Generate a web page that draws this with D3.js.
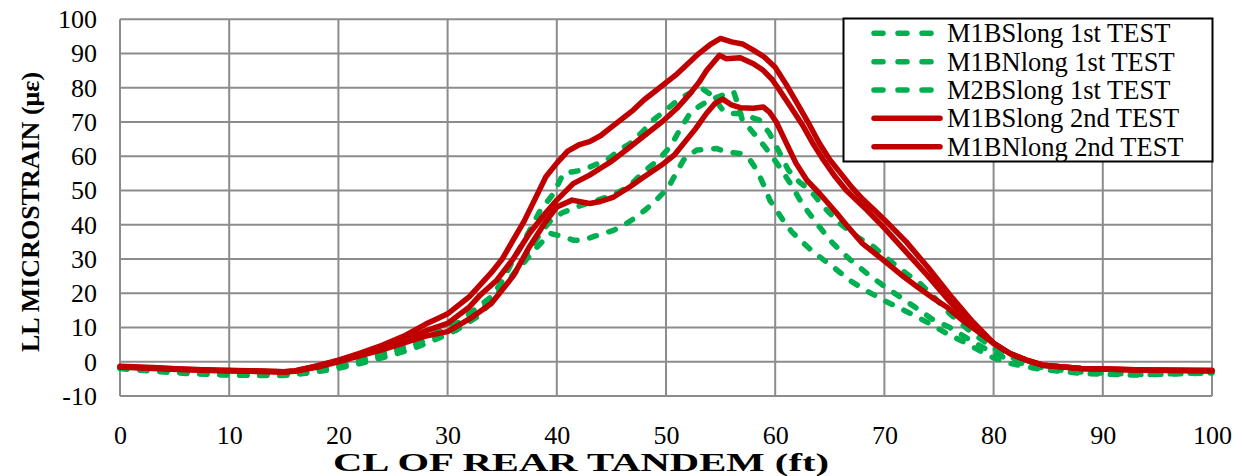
<!DOCTYPE html>
<html><head><meta charset="utf-8">
<script src="https://cdn.jsdelivr.net/npm/d3@7"></script>
<style>
html,body{margin:0;padding:0;background:#fff;}
svg{display:block;}
text{font-family:"Liberation Serif","Times New Roman",serif;fill:#000;}
</style></head>
<body>
<svg id="chart" width="1243" height="476"></svg>
<script>
const xTicks = [0,10,20,30,40,50,60,70,80,90,100];
const yTicks = [-10,0,10,20,30,40,50,60,70,80,90,100];
const xTitle = "CL OF REAR TANDEM (ft)";
const yTitle = "LL MICROSTRAIN (με)";
const legendNames = ["M1BSlong 1st TEST","M1BNlong 1st TEST","M2BSlong 1st TEST","M1BSlong 2nd TEST","M1BNlong 2nd TEST"];

const g1 = [[0,-1.8],[3,-2.5],[6,-3],[9,-3.5],[12,-3.8],[15,-3.8],[17,-3],[19,-1.8],[21,-0.3],[23,1.5],[25,3.5],[27,6],[29,8.5],[31,11.5],[33,16.5],[34,19],[35,23.5],[36,29.7],[37.2,36.5],[38.5,44.3],[39.7,49.1],[40.6,55],[41.5,55.5],[42.4,56],[43.5,57.5],[44.6,58.9],[45.8,62],[46.7,63.7],[47.8,67],[48.8,70.5],[49.8,73],[50.7,75.4],[51.8,77.8],[52.8,79.5],[53.3,79.8],[54.2,77.8],[55.2,73.5],[56,72.5],[56.8,72.5],[57.7,71.5],[58.6,70.5],[59.5,66.6],[60.4,61],[61.2,56],[62.2,52.5],[63.2,50.1],[64.5,45],[65.9,40.4],[67.5,36.5],[69,33.6],[70.5,29.5],[72,25.8],[73.3,22.8],[74.5,19],[76,14],[78,8.5],[80,4],[81.5,1.5],[83,-0.5],[85,-1.8],[88,-2.8],[92,-3.3],[96,-3.3],[100,-3]];
const g2 = [[0,-1.8],[3,-2.6],[6,-3.2],[9,-3.7],[12,-4],[15,-4],[17,-3.3],[19,-2.2],[21,-0.8],[23,0.8],[25,2.8],[27,5],[29,7.5],[31,10.5],[33,15],[35,21.5],[36.5,27.5],[37.5,32.5],[38.5,37.5],[39.5,41.5],[40.5,43.5],[41.8,45.2],[43.7,47.2],[45,48.5],[46.5,51],[47.5,54],[48.5,56.9],[49.3,59],[50.1,61.8],[50.7,64.5],[51.3,68],[52.2,72.5],[53,74.5],[53.7,75.9],[54.5,77],[55.3,78],[56.2,78.8],[56.6,75],[57,70.5],[57.7,68],[58.3,65.7],[59,63],[59.5,60.8],[60.4,56.9],[61.4,52],[62.5,46],[63.8,40.4],[65.3,34.5],[66.8,30],[68.4,25.8],[70,22],[71.4,19],[73,15.5],[74.5,12.2],[76,10],[78,6],[80,2.5],[82,0],[84,-1.5],[87,-2.8],[90,-3.3],[94,-3.8],[97,-3.5],[100,-3.3]];
const g3 = [[0,-2],[3,-2.8],[6,-3.4],[9,-3.8],[12,-4],[15.3,-3.9],[17.5,-3.2],[19.8,-2],[22,-0.5],[24.4,1.5],[26.5,3.5],[28.4,5.8],[30.8,9.2],[32.7,13.1],[34.2,18],[35.4,22.9],[36.9,28.7],[38.2,33.5],[39.4,37.5],[40.6,36.5],[41.5,35.5],[42.4,35.5],[43.8,37],[45.2,38.4],[46.3,40.2],[47.3,42.3],[48.2,44.6],[49.1,47.2],[49.8,49.5],[50.4,52],[51,55.5],[51.6,58.9],[52.2,60.5],[52.8,61.8],[53.7,62],[54.6,62.3],[55.5,61.3],[56.8,60.8],[57.7,58.9],[58.2,56.5],[58.6,54],[59.1,50.5],[59.5,47.2],[60.1,44.3],[60.8,41],[61.5,38],[62.3,35.5],[63.5,32],[65.3,27.7],[66.8,23.8],[68.5,20.5],[69.9,18],[71.5,15.5],[73,13.1],[74.5,10.5],[75.7,8.3],[77.5,5.4],[79.7,1.5],[81.5,-0.5],[83.9,-2],[86,-2.8],[88.2,-3.4],[92.8,-3.9],[97.4,-3.4],[100,-3.3]];
const r1 = [[0,-1.5],[3,-1.8],[6,-2.2],[9,-2.5],[12,-2.6],[15,-2.9],[16,-2.7],[18,-1.2],[20,0.5],[22,2.5],[24,4.8],[26,7.5],[28,11],[29,12.5],[30,14],[32,19],[34,26],[35,30],[36,35.5],[37,41],[38,47.5],[39,54],[40,58],[41,61.5],[42,63.3],[43,64.3],[44,66],[45,68.5],[46,71],[47,73.5],[48,76.5],[49,79],[50,81.5],[51,84],[52,87],[53,90],[54,92.5],[55,94.4],[56,93.4],[57,92.8],[58,91],[59,89],[60,86],[61,81],[62,75.5],[63,70],[64,64],[65,59],[66,55],[67,51],[68,47.5],[69,44.5],[70,41.5],[72,35],[74,27.5],[76,19.5],[78,12],[80,5.4],[81.5,2.4],[83,0.5],[84.5,-1],[88,-2],[94,-2.4],[100,-2.6]];
const r2 = [[0,-1.3],[3,-1.7],[6,-2.2],[9,-2.5],[12,-2.7],[15,-2.9],[16,-2.7],[18,-1.3],[20,0.3],[22,2],[24,4.2],[26,6.5],[28,9],[30,11.2],[32,16],[33,19.5],[34.5,23.8],[36,30],[37.5,37.5],[39,43.5],[40,47.2],[41.5,52],[43,54.5],[44,56.5],[45,58.5],[46.7,62.7],[48,66],[49.8,70.5],[51,74],[52.2,78.3],[53,81.5],[53.7,85],[54.9,89.5],[55.5,88.5],[56.8,88.8],[58,87],[58.9,85.1],[59.7,82.5],[60.4,79.3],[61.5,74],[62.6,68.6],[63.5,63.5],[64.4,59],[65.5,54],[66.5,50.1],[67.5,47],[68.4,44.3],[70,39],[72,32],[74,25],[76,17.5],[78,11],[80,5.4],[81.5,2.4],[83,0.5],[84.5,-1],[88,-2],[94,-2.4],[100,-2.5]];
const r3 = [[0,-1.5],[3,-2],[6,-2.3],[9,-2.6],[12,-2.8],[15,-3],[16,-2.8],[18,-1.6],[20,0],[22,1.8],[24,3.5],[26,5.5],[28,7.5],[30,8.8],[32,12.5],[34,17],[36,25],[37.5,33.6],[39,41],[40,45.2],[41.4,47.2],[43,46.2],[44,46.8],[45.2,48.1],[46.7,51.1],[48,54],[49.8,57.9],[50.8,60.5],[51.6,63.7],[52.7,68],[53.7,72.5],[54.5,75.5],[55.2,76.7],[56,75],[56.8,74.2],[58,74],[58.9,74.4],[59.5,72.8],[60.1,70],[61,64],[61.9,58],[62.9,53],[64.1,49],[65.6,43.5],[66.5,40],[68,34.5],[69.9,29.7],[71.5,25.5],[73,21.9],[74.5,18.5],[75.7,16],[77,12.5],[78.5,9],[80,5.4],[81.5,2.4],[83,0.5],[84.5,-1],[88,-2],[94,-2.5],[100,-2.7]];

const GREEN = "#00B050", RED = "#C00000", GRID = "#8c8c8c";
const series = [
  {data:g1, color:GREEN, dash:true},
  {data:g2, color:GREEN, dash:true},
  {data:g3, color:GREEN, dash:true},
  {data:r1, color:RED, dash:false},
  {data:r2, color:RED, dash:false},
  {data:r3, color:RED, dash:false}
];

const svg = d3.select("#chart");
const L = 120, R = 1212, T = 19.3, B = 396;
const x = d3.scaleLinear().domain([0,100]).range([L,R]);
const y = d3.scaleLinear().domain([-10,100]).range([B,T]);

const grid = svg.append("g");
grid.selectAll("line.h").data(yTicks).join("line")
  .attr("x1",L).attr("x2",R).attr("y1",d=>y(d)).attr("y2",d=>y(d))
  .attr("stroke",GRID).attr("stroke-width",2);
grid.selectAll("line.v").data(xTicks).join("line")
  .attr("y1",T).attr("y2",B).attr("x1",d=>x(d)).attr("x2",d=>x(d))
  .attr("stroke",GRID).attr("stroke-width",2);

const line = d3.line().x(d=>x(d[0])).y(d=>y(d[1])).curve(d3.curveLinear);
svg.append("g").selectAll("path").data(series).join("path")
  .attr("d",d=>line(d.data)).attr("fill","none")
  .attr("stroke",d=>d.color).attr("stroke-width",5.5)
  .attr("stroke-linecap","round").attr("stroke-linejoin","round")
  .attr("stroke-dasharray",d=>d.dash?"7,13":null);

// axes
const xAxis = d3.axisBottom(x).tickValues(xTicks).tickSize(0).tickPadding(0).tickFormat(d=>String(d));
const gx = svg.append("g").attr("transform",`translate(0,${B})`).call(xAxis);
gx.select(".domain").remove();
gx.selectAll("text").attr("y",48).attr("dy",null).style("font-size","26px").style("font-family","'Liberation Serif',serif");

const yAxis = d3.axisLeft(y).tickValues(yTicks).tickSize(0).tickPadding(23).tickFormat(d=>String(d));
const gy = svg.append("g").attr("transform",`translate(${L},0)`).call(yAxis);
gy.select(".domain").remove();
gy.selectAll("text").style("font-size","26px").style("font-family","'Liberation Serif',serif");

svg.append("text").attr("x",581).attr("y",471).attr("text-anchor","middle")
  .attr("textLength",496).attr("lengthAdjust","spacingAndGlyphs")
  .style("font-size","25px").style("font-weight","bold").text(xTitle);
svg.append("text").attr("transform","translate(39,212) rotate(-90)").attr("text-anchor","middle")
  .style("font-size","26px").style("font-weight","bold").text(yTitle);

// legend
const lg = svg.append("g");
lg.append("rect").attr("x",843.5).attr("y",18.5).attr("width",369).attr("height",143)
  .attr("fill","#fff").attr("stroke","#000").attr("stroke-width",2);
const rowY = [33.3,61.7,90,118.3,146.7];
legendNames.forEach((n,i)=>{
  const s = series[i];
  lg.append("line").attr("x1",874).attr("x2",940).attr("y1",rowY[i]).attr("y2",rowY[i])
    .attr("stroke",s.color).attr("stroke-width",5.5).attr("stroke-linecap","round")
    .attr("stroke-dasharray",s.dash?"9,15":null);
  lg.append("text").attr("x",947).attr("y",rowY[i]+9).style("font-size","26.5px").text(n);
});
</script>
</body></html>
